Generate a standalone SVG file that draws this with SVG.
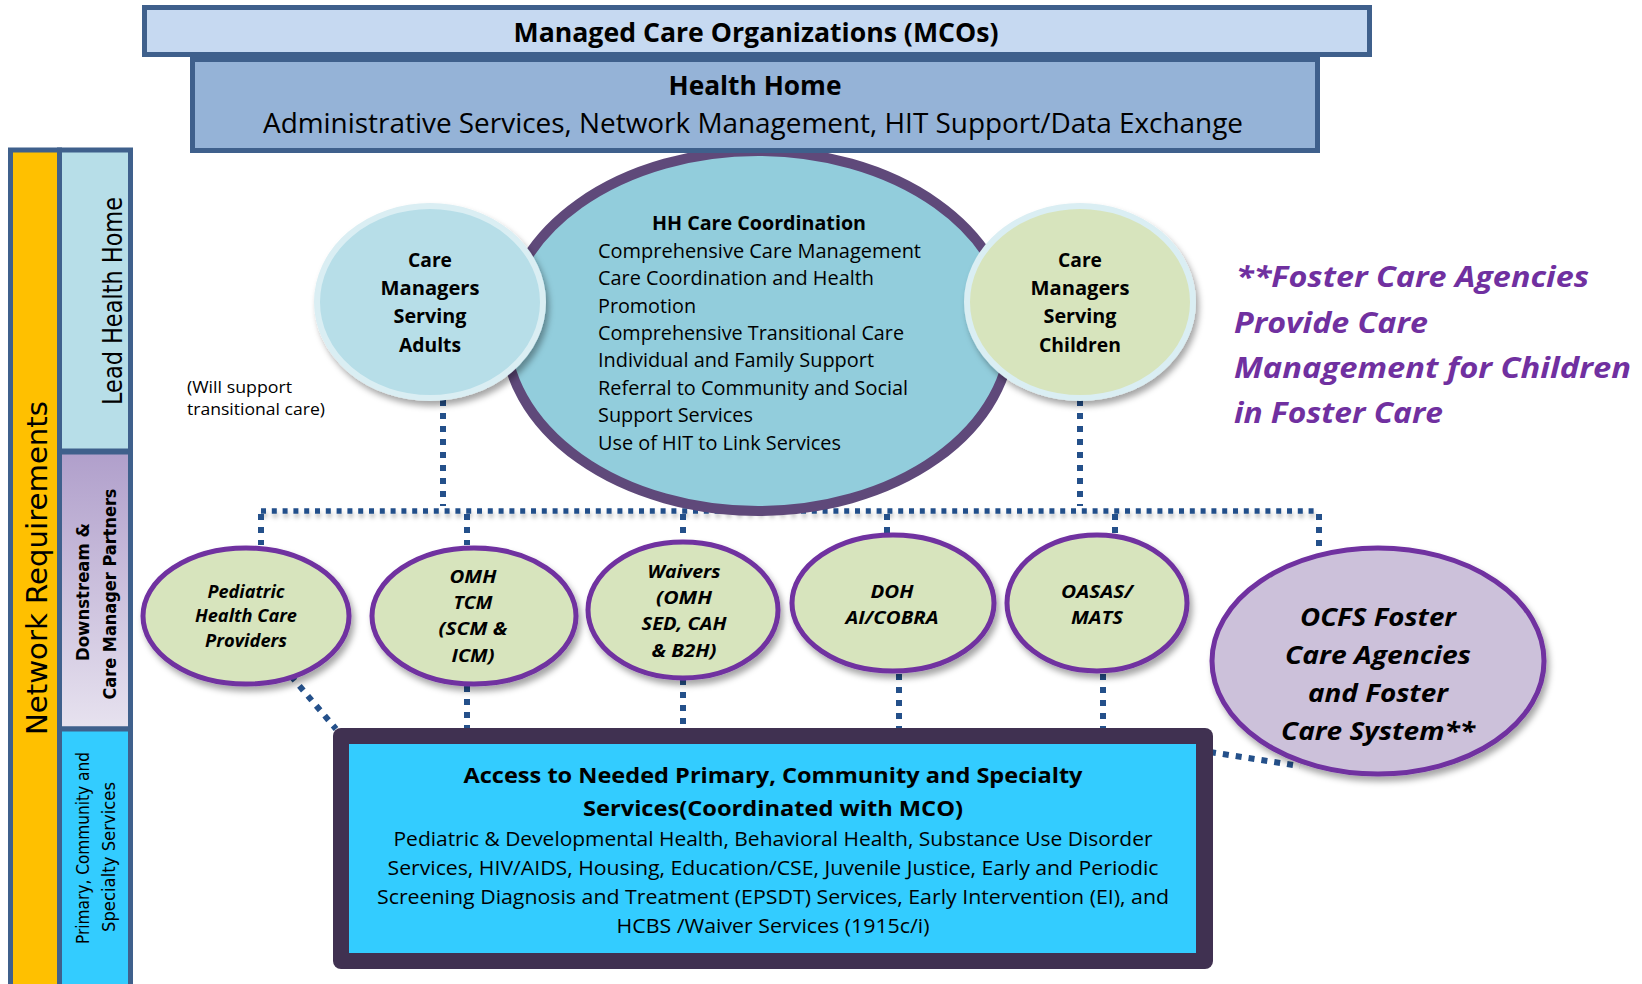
<svg xmlns="http://www.w3.org/2000/svg" width="1642" height="984" viewBox="0 0 1642 984">
<defs>
<style>
.t{font-family:"Open Sans","Liberation Sans",sans-serif;fill:#000}
.v{font-family:"DejaVu Sans","Liberation Sans",sans-serif;fill:#000}
.b{font-weight:bold}
.i{font-style:italic}
.m{text-anchor:middle}
.pre{white-space:pre}
.dot{fill:none;stroke:#24508A;stroke-width:6;stroke-dasharray:6 7}
.hdot{fill:none;stroke:#24508A;stroke-width:5.5;stroke-dasharray:5 5.8}
.sm{fill:#D7E4BD;stroke:#7030A0;stroke-width:5}
.frame{stroke:#3F608C;stroke-width:5}
</style>
<linearGradient id="gDown" x1="0" y1="0" x2="0" y2="1">
<stop offset="0" stop-color="#B09FCB"/>
<stop offset="1" stop-color="#E7E2EF"/>
</linearGradient>
<filter id="sh" x="-20%" y="-20%" width="150%" height="150%">
<feDropShadow dx="3" dy="5" stdDeviation="3" flood-color="#000" flood-opacity="0.35"/>
</filter>
<filter id="lsh" filterUnits="userSpaceOnUse" x="240" y="495" width="1100" height="40">
<feDropShadow dx="1" dy="4" stdDeviation="2" flood-color="#000" flood-opacity="0.25"/>
</filter>
</defs>
<rect width="1642" height="984" fill="#FFFFFF"/>

<!-- left column -->
<g id="network-requirements">
<rect class="frame" x="10.5" y="150" width="49" height="840" fill="#FFC000"/>
<text class="v" font-size="29" text-anchor="middle" textLength="334" lengthAdjust="spacingAndGlyphs" transform="translate(47,568) rotate(-90)">Network Requirements</text>
</g>
<g id="lead-health-home">
<rect class="frame" x="59.5" y="150" width="71" height="301" fill="#B7DEE8"/>
<text class="v" font-size="26" text-anchor="middle" textLength="208" lengthAdjust="spacingAndGlyphs" transform="translate(122,301) rotate(-90)">Lead Health Home</text>
</g>
<g id="downstream-partners">
<rect class="frame" x="59.5" y="452" width="71" height="277" fill="url(#gDown)"/>
<text class="v b" font-size="17" text-anchor="middle" textLength="138" lengthAdjust="spacingAndGlyphs" transform="translate(89,592) rotate(-90)">Downstream &amp;</text>
<text class="v b" font-size="17" text-anchor="middle" textLength="211" lengthAdjust="spacingAndGlyphs" transform="translate(116,594) rotate(-90)">Care Manager Partners</text>
</g>
<g id="primary-community-specialty">
<rect class="frame" x="59.5" y="729" width="71" height="261" fill="#33CCFF"/>
<text class="v" font-size="18" text-anchor="middle" textLength="192" lengthAdjust="spacingAndGlyphs" transform="translate(89,848) rotate(-90)">Primary, Community and</text>
<text class="v" font-size="18" text-anchor="middle" textLength="150" lengthAdjust="spacingAndGlyphs" transform="translate(115,857) rotate(-90)">Specialty Services</text>
</g>

<!-- connectors -->
<g id="connectors">
<path class="dot" d="M443 400 V506"/>
<path class="dot" d="M1080 400 V506"/>
<path class="hdot" filter="url(#lsh)" d="M261 511 H1319"/>
<path class="dot" d="M261 514 V545"/>
<path class="dot" d="M467 514 V545"/>
<path class="dot" d="M683 514 V540"/>
<path class="dot" d="M887 514 V534"/>
<path class="dot" d="M1115 514 V534"/>
<path class="dot" d="M1319 514 V546"/>
<path class="dot" d="M467 686 V728"/>
<path class="dot" d="M683 679 V728"/>
<path class="dot" d="M899 674 V728"/>
<path class="dot" d="M1103 674 V728"/>
<path class="dot" d="M291 676 L336 729"/>
<path class="dot" d="M1210 752 L1300 766"/>
</g>

<!-- HH care coordination -->
<g id="hh-care-coordination">
<ellipse cx="758" cy="331" rx="253" ry="180" fill="#92CDDC" stroke="#5F497A" stroke-width="10"/>
<text class="t b" font-size="19.5" x="652" y="230" textLength="214" lengthAdjust="spacingAndGlyphs">HH Care Coordination</text>
<g class="t" font-size="19.5">
<text x="598" y="258" textLength="323" lengthAdjust="spacingAndGlyphs">Comprehensive Care Management</text>
<text x="598" y="285" textLength="276" lengthAdjust="spacingAndGlyphs">Care Coordination and Health</text>
<text x="598" y="313" textLength="98" lengthAdjust="spacingAndGlyphs">Promotion</text>
<text x="598" y="340" textLength="306" lengthAdjust="spacingAndGlyphs">Comprehensive Transitional Care</text>
<text x="598" y="367" textLength="276" lengthAdjust="spacingAndGlyphs">Individual and Family Support</text>
<text x="598" y="395" textLength="310" lengthAdjust="spacingAndGlyphs">Referral to Community and Social</text>
<text x="598" y="422" textLength="155" lengthAdjust="spacingAndGlyphs">Support Services</text>
<text x="598" y="450" textLength="243" lengthAdjust="spacingAndGlyphs">Use of HIT to Link Services</text>
</g>
</g>

<!-- top boxes -->
<g id="mcos">
<rect class="frame" x="144.5" y="7.5" width="1225" height="47" fill="#C6D9F1"/>
<text class="t b m" font-size="27" x="756" y="42" textLength="485" lengthAdjust="spacingAndGlyphs">Managed Care Organizations (MCOs)</text>
</g>
<g id="health-home">
<rect class="frame" x="192.5" y="59.5" width="1125" height="91" fill="#95B3D7"/>
<text class="t b m" font-size="27" x="755" y="95" textLength="173" lengthAdjust="spacingAndGlyphs">Health Home</text>
<text class="t m" font-size="27" x="753" y="133" textLength="980" lengthAdjust="spacingAndGlyphs">Administrative Services, Network Management, HIT Support/Data Exchange</text>
</g>

<!-- care managers -->
<g id="care-managers-adults">
<ellipse cx="430" cy="302" rx="113" ry="96" fill="#B7DEE8" stroke="#DAEEF3" stroke-width="6" filter="url(#sh)"/>
<g class="t b m" font-size="19.5">
<text x="430" y="267" textLength="44" lengthAdjust="spacingAndGlyphs">Care</text>
<text x="430" y="295" textLength="99" lengthAdjust="spacingAndGlyphs">Managers</text>
<text x="430" y="323" textLength="73" lengthAdjust="spacingAndGlyphs">Serving</text>
<text x="430" y="352" textLength="62" lengthAdjust="spacingAndGlyphs">Adults</text>
</g>
</g>
<g id="care-managers-children">
<ellipse cx="1080" cy="302" rx="113" ry="96" fill="#D7E4BD" stroke="#DAEEF3" stroke-width="6" filter="url(#sh)"/>
<g class="t b m" font-size="19.5">
<text x="1080" y="267" textLength="44" lengthAdjust="spacingAndGlyphs">Care</text>
<text x="1080" y="295" textLength="99" lengthAdjust="spacingAndGlyphs">Managers</text>
<text x="1080" y="323" textLength="73" lengthAdjust="spacingAndGlyphs">Serving</text>
<text x="1080" y="352" textLength="82" lengthAdjust="spacingAndGlyphs">Children</text>
</g>
</g>

<g id="transitional-note">
<text class="t" font-size="16.5" x="187" y="393" textLength="105" lengthAdjust="spacingAndGlyphs">(Will support</text>
<text class="t" font-size="16.5" x="187" y="415" textLength="138" lengthAdjust="spacingAndGlyphs">transitional care)</text>
</g>

<g id="foster-note">
<g class="t b i" font-size="28.5">
<text x="1236" y="287" textLength="353" lengthAdjust="spacingAndGlyphs" style="fill:#7030A0">**Foster Care Agencies</text>
<text x="1234" y="333" textLength="194" lengthAdjust="spacingAndGlyphs" style="fill:#7030A0">Provide Care</text>
<text x="1234" y="378" textLength="397" lengthAdjust="spacingAndGlyphs" style="fill:#7030A0">Management for Children</text>
<text x="1234" y="423" textLength="209" lengthAdjust="spacingAndGlyphs" style="fill:#7030A0">in Foster Care</text>
</g>
</g>

<!-- downstream partner nodes -->
<g id="pediatric">
<ellipse class="sm" cx="246" cy="616" rx="103" ry="68" filter="url(#sh)"/>
<g class="t b i m" font-size="18">
<text x="246" y="598" textLength="77" lengthAdjust="spacingAndGlyphs">Pediatric</text>
<text x="246" y="622" textLength="102" lengthAdjust="spacingAndGlyphs">Health Care</text>
<text x="246" y="647" textLength="82" lengthAdjust="spacingAndGlyphs">Providers</text>
</g>
</g>
<g id="omh-tcm">
<ellipse class="sm" cx="474" cy="616" rx="102" ry="68" filter="url(#sh)"/>
<g class="t b i m" font-size="18">
<text x="473" y="583" textLength="47" lengthAdjust="spacingAndGlyphs">OMH</text>
<text x="473" y="609" textLength="39" lengthAdjust="spacingAndGlyphs">TCM</text>
<text x="473" y="635" textLength="69" lengthAdjust="spacingAndGlyphs">(SCM &amp;</text>
<text x="473" y="662" textLength="43" lengthAdjust="spacingAndGlyphs">ICM)</text>
</g>
</g>
<g id="waivers">
<ellipse class="sm" cx="683" cy="610" rx="95" ry="68" filter="url(#sh)"/>
<g class="t b i m" font-size="18">
<text x="684" y="578" textLength="73" lengthAdjust="spacingAndGlyphs">Waivers</text>
<text x="684" y="604" textLength="56" lengthAdjust="spacingAndGlyphs">(OMH</text>
<text x="684" y="630" textLength="85" lengthAdjust="spacingAndGlyphs">SED, CAH</text>
<text x="684" y="657" textLength="65" lengthAdjust="spacingAndGlyphs">&amp; B2H)</text>
</g>
</g>
<g id="doh">
<ellipse class="sm" cx="893" cy="603" rx="101" ry="68" filter="url(#sh)"/>
<g class="t b i m" font-size="18">
<text x="892" y="598" textLength="43" lengthAdjust="spacingAndGlyphs">DOH</text>
<text x="892" y="624" textLength="93" lengthAdjust="spacingAndGlyphs">AI/COBRA</text>
</g>
</g>
<g id="oasas">
<ellipse class="sm" cx="1097" cy="603" rx="90" ry="68" filter="url(#sh)"/>
<g class="t b i m" font-size="18">
<text x="1097" y="598" textLength="72" lengthAdjust="spacingAndGlyphs">OASAS/</text>
<text x="1097" y="624" textLength="52" lengthAdjust="spacingAndGlyphs">MATS</text>
</g>
</g>
<g id="ocfs">
<ellipse cx="1378" cy="661" rx="166" ry="113" fill="#CCC1DA" stroke="#7030A0" stroke-width="5" filter="url(#sh)"/>
<g class="t b i m" font-size="25.5">
<text x="1378" y="626" textLength="156" lengthAdjust="spacingAndGlyphs">OCFS Foster</text>
<text x="1378" y="664" textLength="186" lengthAdjust="spacingAndGlyphs">Care Agencies</text>
<text x="1378" y="702" textLength="140" lengthAdjust="spacingAndGlyphs">and Foster</text>
<text x="1378" y="740" textLength="194" lengthAdjust="spacingAndGlyphs">Care System**</text>
</g>
</g>

<!-- access box -->
<g id="access-services">
<rect x="333" y="728" width="880" height="241" rx="8" fill="#403151"/>
<rect x="349" y="744" width="847" height="209" fill="#33CCFF"/>
<g class="t b m pre" font-size="22">
<text x="773" y="783" textLength="619" lengthAdjust="spacingAndGlyphs">Access to Needed Primary, Community  and Specialty</text>
<text x="773" y="816" textLength="380" lengthAdjust="spacingAndGlyphs">Services(Coordinated with MCO)</text>
</g>
<g class="t m pre" font-size="19.5">
<text x="773" y="846" textLength="759" lengthAdjust="spacingAndGlyphs">Pediatric &amp; Developmental Health, Behavioral Health, Substance Use Disorder</text>
<text x="773" y="875" textLength="771" lengthAdjust="spacingAndGlyphs">Services, HIV/AIDS, Housing, Education/CSE, Juvenile Justice, Early and Periodic</text>
<text x="773" y="904" textLength="792" lengthAdjust="spacingAndGlyphs">Screening Diagnosis and Treatment (EPSDT) Services,  Early Intervention  (EI), and</text>
<text x="773" y="933" textLength="313" lengthAdjust="spacingAndGlyphs">HCBS /Waiver Services (1915c/i)</text>
</g>
</g>
</svg>
